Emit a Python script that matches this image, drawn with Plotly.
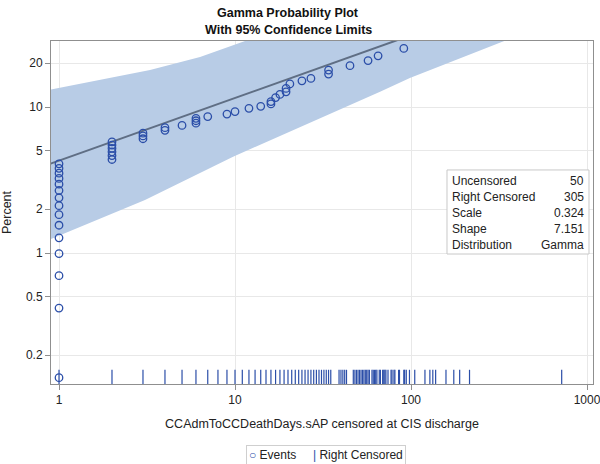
import plotly.graph_objects as go

# ---------------- data ----------------
event_days = [1, 1, 1, 1, 1, 1, 1, 1, 1, 1, 1, 1, 1, 1, 1,
              2, 2, 2, 2, 2, 2,
              3, 3, 3,
              4, 4,
              5,
              6, 6, 6,
              7, 9, 10, 12, 14,
              16, 16, 17, 18, 19.5, 19.5, 20.5,
              24, 27, 34, 34, 45, 57, 65, 91]
event_pct = [0.14, 0.42, 0.70, 0.99, 1.27, 1.55, 1.83, 2.11, 2.39, 2.68, 2.96, 3.24, 3.52, 3.80, 4.08,
             4.37, 4.65, 4.93, 5.21, 5.49, 5.77,
             6.06, 6.34, 6.62,
             6.92, 7.22,
             7.48,
             7.75, 8.05, 8.37,
             8.6, 8.95, 9.3, 9.8, 10.1,
             10.5, 10.9, 11.6, 12.2, 12.7, 13.4, 14.4,
             15.1, 15.7, 16.8, 17.9, 19.2, 20.8, 22.4, 25.2]

censored_days = [1, 2, 3, 4, 5, 6, 7, 8, 9, 10, 11, 12, 13, 14, 15, 16, 17, 18, 19, 20,
                 21, 22, 23, 24, 25, 26, 27, 28, 29, 30, 31, 32, 33, 34, 35,
                 39, 40, 41, 42, 43, 47, 48, 49, 50, 51, 52, 53, 54, 55, 56, 57, 58,
                 60, 61, 62, 63, 64, 66, 67, 69, 70, 71, 72, 74, 77, 78, 80, 81, 85, 86,
                 91, 92, 94, 98, 105, 120, 128, 133, 138, 158, 175, 189, 215, 718]

fit_days = [0.85, 10, 150]
fit_pct = [4.0, 11.6, 36.9]

upper_days = [0.85, 3.29, 6.33, 11.4, 1200]
upper_pct = [13.0, 17.9, 22.0, 28.3, 100]
lower_days = [0.85, 3.08, 9.75, 66.7, 98.5, 351, 1200]
lower_pct = [1.21, 2.31, 4.57, 12.7, 15.8, 28.8, 60]

x_ticks = [1, 10, 100, 1000]
y_ticks = [0.2, 0.5, 1, 2, 5, 10, 20]
y_ticktext = ["0.2", "0.5", "1", "2", "5", "10", "20"]

title_lines = ["Gamma Probability Plot", "With 95% Confidence Limits"]
stat_labels = ["Uncensored", "Right Censored", "Scale", "Shape", "Distribution"]
stat_values = ["50", "305", "0.324", "7.151", "Gamma"]

# ---------------- figure ----------------
FONT = "Liberation Sans, Arial, sans-serif"
band_color = "#b8cce6"
line_color = "#5f6e84"
mark_color = "#2b4ea8"

fig = go.Figure()

# confidence band as polygon
fig.add_trace(go.Scatter(
    x=upper_days + lower_days[::-1],
    y=upper_pct + lower_pct[::-1],
    mode="lines", fill="toself", fillcolor=band_color,
    line=dict(width=0), hoverinfo="skip", showlegend=False))

# fitted line
fig.add_trace(go.Scatter(
    x=fit_days, y=fit_pct, mode="lines",
    line=dict(color=line_color, width=2), showlegend=False))

# events
fig.add_trace(go.Scatter(
    x=event_days, y=event_pct, mode="markers", name="Events",
    marker=dict(symbol="circle-open", size=7.5, color=mark_color,
                line=dict(width=1.3, color=mark_color)),
    cliponaxis=False, showlegend=False))

# right censored rug
fig.add_trace(go.Scatter(
    x=censored_days, y=[0.019] * len(censored_days), yaxis="y2",
    mode="markers", name="Right Censored",
    marker=dict(symbol="line-ns", size=11, color=mark_color,
                line=dict(width=1.2, color=mark_color)),
    showlegend=False))

axis_common = dict(
    showline=True, linecolor="#8f8f8f", linewidth=1, mirror=True,
    ticks="outside", ticklen=5, tickcolor="#8f8f8f",
    showgrid=True, gridcolor="#e8e8e8", gridwidth=1, zeroline=False,
    tickfont=dict(family=FONT, size=12, color="#222"),
    automargin=False, ticklabeloverflow="allow",
)

fig.update_layout(
    width=600, height=464,
    margin=dict(l=51, r=7, t=41, b=80),
    paper_bgcolor="white", plot_bgcolor="white",
    font=dict(family=FONT, size=12, color="#222"),
    xaxis=dict(type="log", range=[-0.0455, 3.034], tickvals=x_ticks,
               ticktext=[str(v) for v in x_ticks],
               title=dict(text="CCAdmToCCDeathDays.sAP censored at CIS discharge",
                          font=dict(family=FONT, size=12.5, color="#222"), standoff=12),
               **axis_common),
    yaxis=dict(type="log", range=[-0.897, 1.452], tickvals=y_ticks, ticktext=y_ticktext,
               title=dict(text="Percent", font=dict(family=FONT, size=12.5, color="#222"),
                          standoff=14),
               **axis_common),
    yaxis2=dict(overlaying="y", range=[0, 1], visible=False),
    showlegend=False,
)

# title (two bold lines)
for txt, yy in zip(title_lines, [1.0816, 1.032]):
    fig.add_annotation(x=0.4375, y=yy, xref="paper", yref="paper",
                       text="<b>" + txt + "</b>", showarrow=False,
                       xanchor="center", yanchor="middle",
                       font=dict(family=FONT, size=12.5, color="#111"))

# statistics inset
fig.add_shape(type="rect", xref="paper", yref="paper",
              x0=0.7306, x1=0.9926, y0=0.379, y1=0.624,
              line=dict(color="#c8c8c8", width=1), fillcolor="white", layer="above")
row_y = [0.5927, 0.546, 0.4994, 0.4528, 0.406]
for lab, val, yy in zip(stat_labels, stat_values, row_y):
    fig.add_annotation(x=0.7366, y=yy, xref="paper", yref="paper", text=lab,
                       showarrow=False, xanchor="left", yanchor="middle",
                       font=dict(family=FONT, size=12, color="#222"))
    fig.add_annotation(x=0.9866, y=yy, xref="paper", yref="paper", text=val,
                       showarrow=False, xanchor="right", yanchor="middle",
                       font=dict(family=FONT, size=12, color="#222"))

# compact legend box (as in the reference)
legend_text = ("<span style='color:%s'>○</span> Events &nbsp;&nbsp;&nbsp; "
               "<span style='color:%s'>|</span> Right Censored") % (mark_color, mark_color)
fig.add_annotation(x=0.5074, y=-0.207, xref="paper", yref="paper",
                   text=legend_text, showarrow=False,
                   xanchor="center", yanchor="middle",
                   bordercolor="#cfcfcf", borderwidth=1, borderpad=2, bgcolor="white",
                   font=dict(family=FONT, size=12, color="#222"))

fig.write_html("out.html",
               config={"displayModeBar": False, "staticPlot": True},
               post_script="document.body.style.margin='0';"
                           "document.body.style.padding='0';"
                           "document.body.style.overflow='hidden';")
